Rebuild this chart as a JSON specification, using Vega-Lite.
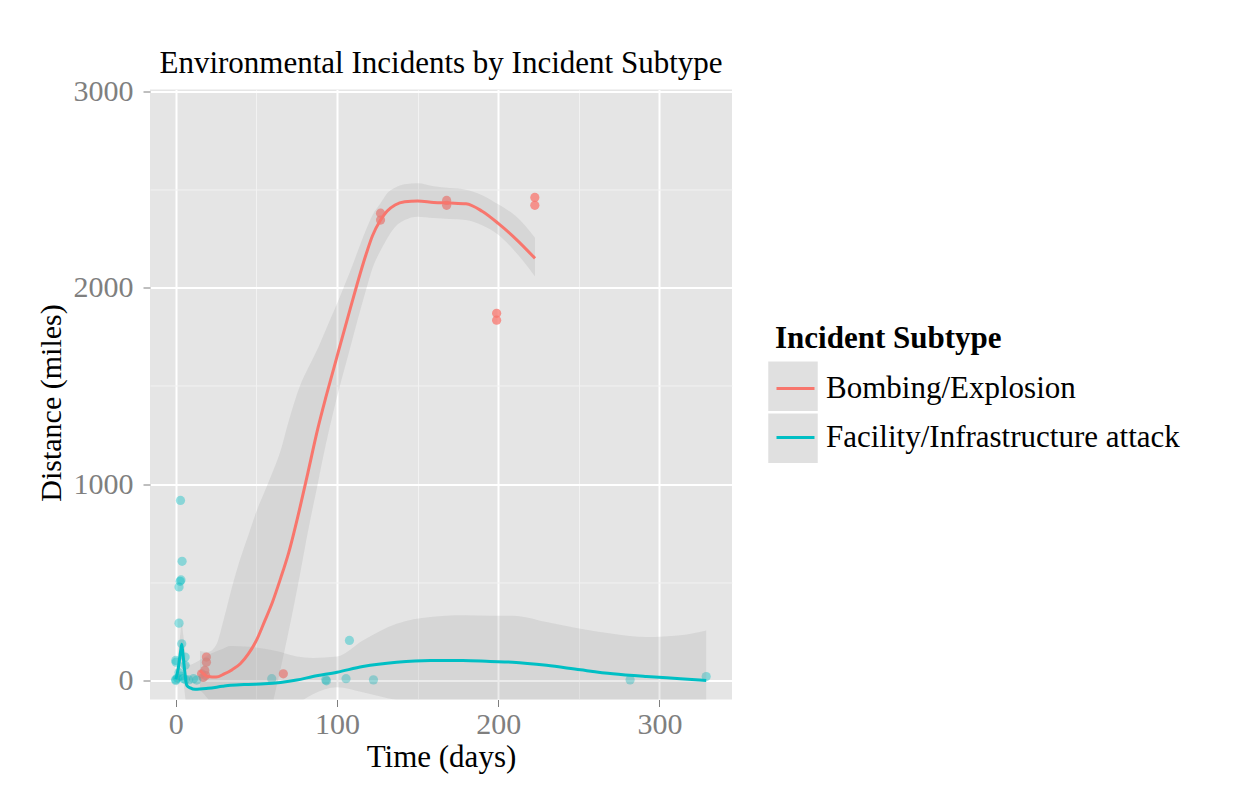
{
  "$schema": "https://vega.github.io/schema/vega-lite/v6.json",
  "width": 582,
  "height": 610,
  "autosize": {"type": "none"},
  "padding": {"left": 150, "top": 89.5, "right": 525, "bottom": 96.5},
  "background": "white",
  "config": {
    "font": "Liberation Serif",
    "view": {"stroke": null, "fill": "#E5E5E5"}
  },
  "title": {
    "text": "Environmental Incidents by Incident Subtype",
    "frame": "group",
    "anchor": "middle",
    "fontSize": 31,
    "font": "Liberation Serif",
    "fontWeight": "normal",
    "color": "black",
    "baseline": "alphabetic",
    "offset": -28
  },
  "datasets": {
    "points": [
      {"subtype": "Bombing/Explosion", "days": 16, "miles": 34},
      {"subtype": "Bombing/Explosion", "days": 17, "miles": 15},
      {"subtype": "Bombing/Explosion", "days": 18, "miles": 51},
      {"subtype": "Bombing/Explosion", "days": 18.5, "miles": 25},
      {"subtype": "Bombing/Explosion", "days": 19, "miles": 93},
      {"subtype": "Bombing/Explosion", "days": 19, "miles": 119},
      {"subtype": "Bombing/Explosion", "days": 66.7, "miles": 34},
      {"subtype": "Bombing/Explosion", "days": 127, "miles": 2380},
      {"subtype": "Bombing/Explosion", "days": 127, "miles": 2345},
      {"subtype": "Bombing/Explosion", "days": 168, "miles": 2445},
      {"subtype": "Bombing/Explosion", "days": 168, "miles": 2420},
      {"subtype": "Bombing/Explosion", "days": 199, "miles": 1870},
      {"subtype": "Bombing/Explosion", "days": 199, "miles": 1835},
      {"subtype": "Bombing/Explosion", "days": 222.7, "miles": 2460},
      {"subtype": "Bombing/Explosion", "days": 222.7, "miles": 2420},
      {"subtype": "Facility/Infrastructure attack", "days": 2.9, "miles": 917},
      {"subtype": "Facility/Infrastructure attack", "days": 3.9, "miles": 607},
      {"subtype": "Facility/Infrastructure attack", "days": 2.7, "miles": 505},
      {"subtype": "Facility/Infrastructure attack", "days": 3.2, "miles": 512},
      {"subtype": "Facility/Infrastructure attack", "days": 2, "miles": 476},
      {"subtype": "Facility/Infrastructure attack", "days": 2, "miles": 292},
      {"subtype": "Facility/Infrastructure attack", "days": 3.7, "miles": 187},
      {"subtype": "Facility/Infrastructure attack", "days": 0, "miles": 102},
      {"subtype": "Facility/Infrastructure attack", "days": 0.2, "miles": 93},
      {"subtype": "Facility/Infrastructure attack", "days": 5.8, "miles": 119},
      {"subtype": "Facility/Infrastructure attack", "days": 5.8, "miles": 77},
      {"subtype": "Facility/Infrastructure attack", "days": 0, "miles": 0},
      {"subtype": "Facility/Infrastructure attack", "days": 0, "miles": 5},
      {"subtype": "Facility/Infrastructure attack", "days": 1, "miles": 12},
      {"subtype": "Facility/Infrastructure attack", "days": 2, "miles": 40},
      {"subtype": "Facility/Infrastructure attack", "days": 3, "miles": 22},
      {"subtype": "Facility/Infrastructure attack", "days": 4.5, "miles": 10},
      {"subtype": "Facility/Infrastructure attack", "days": 6, "miles": 4},
      {"subtype": "Facility/Infrastructure attack", "days": 8, "miles": 3},
      {"subtype": "Facility/Infrastructure attack", "days": 11, "miles": 9},
      {"subtype": "Facility/Infrastructure attack", "days": 13, "miles": 2},
      {"subtype": "Facility/Infrastructure attack", "days": 59.5, "miles": 9},
      {"subtype": "Facility/Infrastructure attack", "days": 93, "miles": 3},
      {"subtype": "Facility/Infrastructure attack", "days": 93.5, "miles": -2},
      {"subtype": "Facility/Infrastructure attack", "days": 105.6, "miles": 9},
      {"subtype": "Facility/Infrastructure attack", "days": 107.7, "miles": 204},
      {"subtype": "Facility/Infrastructure attack", "days": 122.6, "miles": 3},
      {"subtype": "Facility/Infrastructure attack", "days": 281.8, "miles": 3},
      {"subtype": "Facility/Infrastructure attack", "days": 329, "miles": 20}
    ],
    "fit": [
      {"subtype": "Bombing/Explosion", "days": 15, "fit": 51},
      {"subtype": "Bombing/Explosion", "days": 20, "fit": 20},
      {"subtype": "Bombing/Explosion", "days": 25, "fit": 17},
      {"subtype": "Bombing/Explosion", "days": 30, "fit": 33},
      {"subtype": "Bombing/Explosion", "days": 35, "fit": 55},
      {"subtype": "Bombing/Explosion", "days": 40, "fit": 85},
      {"subtype": "Bombing/Explosion", "days": 45, "fit": 135},
      {"subtype": "Bombing/Explosion", "days": 50, "fit": 204},
      {"subtype": "Bombing/Explosion", "days": 55, "fit": 300},
      {"subtype": "Bombing/Explosion", "days": 60, "fit": 400},
      {"subtype": "Bombing/Explosion", "days": 65, "fit": 520},
      {"subtype": "Bombing/Explosion", "days": 70, "fit": 650},
      {"subtype": "Bombing/Explosion", "days": 77, "fit": 880},
      {"subtype": "Bombing/Explosion", "days": 82, "fit": 1060},
      {"subtype": "Bombing/Explosion", "days": 88, "fit": 1280},
      {"subtype": "Bombing/Explosion", "days": 93, "fit": 1440},
      {"subtype": "Bombing/Explosion", "days": 98, "fit": 1590},
      {"subtype": "Bombing/Explosion", "days": 108, "fit": 1888},
      {"subtype": "Bombing/Explosion", "days": 118, "fit": 2170},
      {"subtype": "Bombing/Explosion", "days": 122, "fit": 2265},
      {"subtype": "Bombing/Explosion", "days": 127, "fit": 2345},
      {"subtype": "Bombing/Explosion", "days": 131, "fit": 2390},
      {"subtype": "Bombing/Explosion", "days": 136, "fit": 2422},
      {"subtype": "Bombing/Explosion", "days": 142, "fit": 2438},
      {"subtype": "Bombing/Explosion", "days": 150, "fit": 2442},
      {"subtype": "Bombing/Explosion", "days": 160, "fit": 2435},
      {"subtype": "Bombing/Explosion", "days": 170, "fit": 2432},
      {"subtype": "Bombing/Explosion", "days": 180, "fit": 2428},
      {"subtype": "Bombing/Explosion", "days": 190, "fit": 2390},
      {"subtype": "Bombing/Explosion", "days": 200, "fit": 2328},
      {"subtype": "Bombing/Explosion", "days": 211, "fit": 2248},
      {"subtype": "Bombing/Explosion", "days": 222.8, "fit": 2150},
      {"subtype": "Facility/Infrastructure attack", "days": 0, "fit": 5},
      {"subtype": "Facility/Infrastructure attack", "days": 1.5, "fit": 60},
      {"subtype": "Facility/Infrastructure attack", "days": 3, "fit": 150},
      {"subtype": "Facility/Infrastructure attack", "days": 3.7, "fit": 185},
      {"subtype": "Facility/Infrastructure attack", "days": 4.5, "fit": 130},
      {"subtype": "Facility/Infrastructure attack", "days": 5.5, "fit": 50},
      {"subtype": "Facility/Infrastructure attack", "days": 6.8, "fit": -25},
      {"subtype": "Facility/Infrastructure attack", "days": 9, "fit": -38},
      {"subtype": "Facility/Infrastructure attack", "days": 12, "fit": -45},
      {"subtype": "Facility/Infrastructure attack", "days": 20, "fit": -40},
      {"subtype": "Facility/Infrastructure attack", "days": 29, "fit": -30},
      {"subtype": "Facility/Infrastructure attack", "days": 34, "fit": -25},
      {"subtype": "Facility/Infrastructure attack", "days": 45, "fit": -20},
      {"subtype": "Facility/Infrastructure attack", "days": 55, "fit": -17},
      {"subtype": "Facility/Infrastructure attack", "days": 65, "fit": -10},
      {"subtype": "Facility/Infrastructure attack", "days": 75, "fit": 2},
      {"subtype": "Facility/Infrastructure attack", "days": 85, "fit": 20},
      {"subtype": "Facility/Infrastructure attack", "days": 100, "fit": 42},
      {"subtype": "Facility/Infrastructure attack", "days": 116, "fit": 71},
      {"subtype": "Facility/Infrastructure attack", "days": 137, "fit": 93},
      {"subtype": "Facility/Infrastructure attack", "days": 158, "fit": 102},
      {"subtype": "Facility/Infrastructure attack", "days": 178, "fit": 102},
      {"subtype": "Facility/Infrastructure attack", "days": 195, "fit": 97},
      {"subtype": "Facility/Infrastructure attack", "days": 209, "fit": 93},
      {"subtype": "Facility/Infrastructure attack", "days": 230, "fit": 77},
      {"subtype": "Facility/Infrastructure attack", "days": 251, "fit": 54},
      {"subtype": "Facility/Infrastructure attack", "days": 271, "fit": 34},
      {"subtype": "Facility/Infrastructure attack", "days": 292, "fit": 20},
      {"subtype": "Facility/Infrastructure attack", "days": 313, "fit": 9},
      {"subtype": "Facility/Infrastructure attack", "days": 329, "fit": 0}
    ],
    "band": [
      {"series": "Bombing/Explosion", "days": 15, "lower": -50, "upper": 150},
      {"series": "Bombing/Explosion", "days": 20, "lower": -95, "upper": 145},
      {"series": "Bombing/Explosion", "days": 25, "lower": -170, "upper": 180},
      {"series": "Bombing/Explosion", "days": 30, "lower": -270, "upper": 320},
      {"series": "Bombing/Explosion", "days": 35, "lower": -380, "upper": 480},
      {"series": "Bombing/Explosion", "days": 40, "lower": -450, "upper": 620},
      {"series": "Bombing/Explosion", "days": 45, "lower": -480, "upper": 740},
      {"series": "Bombing/Explosion", "days": 50, "lower": -450, "upper": 860},
      {"series": "Bombing/Explosion", "days": 55, "lower": -320, "upper": 960},
      {"series": "Bombing/Explosion", "days": 60, "lower": -120, "upper": 1060},
      {"series": "Bombing/Explosion", "days": 65, "lower": 60, "upper": 1170},
      {"series": "Bombing/Explosion", "days": 70, "lower": 250, "upper": 1320},
      {"series": "Bombing/Explosion", "days": 77, "lower": 540, "upper": 1500},
      {"series": "Bombing/Explosion", "days": 82, "lower": 760, "upper": 1590},
      {"series": "Bombing/Explosion", "days": 88, "lower": 1000, "upper": 1690},
      {"series": "Bombing/Explosion", "days": 93, "lower": 1200, "upper": 1785},
      {"series": "Bombing/Explosion", "days": 98, "lower": 1378, "upper": 1880},
      {"series": "Bombing/Explosion", "days": 108, "lower": 1690, "upper": 2080},
      {"series": "Bombing/Explosion", "days": 118, "lower": 1990, "upper": 2296},
      {"series": "Bombing/Explosion", "days": 122, "lower": 2100, "upper": 2370},
      {"series": "Bombing/Explosion", "days": 127, "lower": 2190, "upper": 2430},
      {"series": "Bombing/Explosion", "days": 131, "lower": 2250, "upper": 2480},
      {"series": "Bombing/Explosion", "days": 136, "lower": 2310, "upper": 2510},
      {"series": "Bombing/Explosion", "days": 142, "lower": 2345, "upper": 2528},
      {"series": "Bombing/Explosion", "days": 150, "lower": 2362, "upper": 2532},
      {"series": "Bombing/Explosion", "days": 160, "lower": 2355, "upper": 2517},
      {"series": "Bombing/Explosion", "days": 170, "lower": 2350, "upper": 2508},
      {"series": "Bombing/Explosion", "days": 180, "lower": 2345, "upper": 2500},
      {"series": "Bombing/Explosion", "days": 190, "lower": 2318, "upper": 2472},
      {"series": "Bombing/Explosion", "days": 200, "lower": 2270, "upper": 2425},
      {"series": "Bombing/Explosion", "days": 211, "lower": 2180, "upper": 2364},
      {"series": "Bombing/Explosion", "days": 222.8, "lower": 2058, "upper": 2255},
      {"series": "Facility/Infrastructure attack", "days": 0, "lower": -40, "upper": 60},
      {"series": "Facility/Infrastructure attack", "days": 1.5, "lower": 0, "upper": 130},
      {"series": "Facility/Infrastructure attack", "days": 3, "lower": 60, "upper": 250},
      {"series": "Facility/Infrastructure attack", "days": 3.7, "lower": 90, "upper": 290},
      {"series": "Facility/Infrastructure attack", "days": 4.5, "lower": 30, "upper": 240},
      {"series": "Facility/Infrastructure attack", "days": 5.5, "lower": -60, "upper": 170},
      {"series": "Facility/Infrastructure attack", "days": 6.8, "lower": -130, "upper": 90},
      {"series": "Facility/Infrastructure attack", "days": 9, "lower": -150, "upper": 80},
      {"series": "Facility/Infrastructure attack", "days": 12, "lower": -150, "upper": 90},
      {"series": "Facility/Infrastructure attack", "days": 20, "lower": -150, "upper": 130},
      {"series": "Facility/Infrastructure attack", "days": 29, "lower": -170, "upper": 160},
      {"series": "Facility/Infrastructure attack", "days": 34, "lower": -180, "upper": 175},
      {"series": "Facility/Infrastructure attack", "days": 45, "lower": -190, "upper": 172},
      {"series": "Facility/Infrastructure attack", "days": 55, "lower": -190, "upper": 162},
      {"series": "Facility/Infrastructure attack", "days": 65, "lower": -170, "upper": 145},
      {"series": "Facility/Infrastructure attack", "days": 75, "lower": -120, "upper": 122},
      {"series": "Facility/Infrastructure attack", "days": 85, "lower": -70, "upper": 115},
      {"series": "Facility/Infrastructure attack", "days": 100, "lower": -35, "upper": 122},
      {"series": "Facility/Infrastructure attack", "days": 116, "lower": -60, "upper": 204},
      {"series": "Facility/Infrastructure attack", "days": 137, "lower": -100, "upper": 289},
      {"series": "Facility/Infrastructure attack", "days": 158, "lower": -120, "upper": 323},
      {"series": "Facility/Infrastructure attack", "days": 178, "lower": -128, "upper": 332},
      {"series": "Facility/Infrastructure attack", "days": 195, "lower": -135, "upper": 330},
      {"series": "Facility/Infrastructure attack", "days": 209, "lower": -145, "upper": 330},
      {"series": "Facility/Infrastructure attack", "days": 230, "lower": -145, "upper": 298},
      {"series": "Facility/Infrastructure attack", "days": 251, "lower": -155, "upper": 264},
      {"series": "Facility/Infrastructure attack", "days": 271, "lower": -170, "upper": 238},
      {"series": "Facility/Infrastructure attack", "days": 292, "lower": -180, "upper": 221},
      {"series": "Facility/Infrastructure attack", "days": 313, "lower": -210, "upper": 230},
      {"series": "Facility/Infrastructure attack", "days": 329, "lower": -255, "upper": 255}
    ]
  },
  "resolve": {"axis": {"x": "independent", "y": "independent"}},
  "layer": [
    {
      "data": {"name": "points"},
      "mark": {"type": "circle", "size": 85, "clip": true},
      "encoding": {
        "x": {
          "field": "days", "type": "quantitative",
          "scale": {"domain": [-16, 345], "nice": false, "zero": false},
          "axis": {"orient": "bottom", "values": [50, 150, 250], "grid": true, "gridColor": "#F2F2F2", "gridWidth": 1, "labels": false, "ticks": false, "domain": false, "title": null}
        },
        "y": {
          "field": "miles", "type": "quantitative",
          "scale": {"domain": [-97, 3010], "nice": false, "zero": false},
          "axis": {"orient": "left", "values": [500, 1500, 2500], "grid": true, "gridColor": "#F2F2F2", "gridWidth": 1, "labels": false, "ticks": false, "domain": false, "title": null}
        },
        "color": {
          "field": "subtype", "type": "nominal",
          "scale": {"domain": ["Bombing/Explosion", "Facility/Infrastructure attack"], "range": ["#F8766D", "#00BFC4"]},
          "legend": null
        },
        "opacity": {
          "field": "subtype", "type": "nominal",
          "scale": {"range": [0.75, 0.4]},
          "legend": null
        }
      }
    },
    {
      "data": {"name": "band"},
      "mark": {"type": "area", "interpolate": "monotone", "clip": true, "opacity": 0.2},
      "encoding": {
        "x": {"field": "days", "type": "quantitative", "axis": null},
        "y": {"field": "lower", "type": "quantitative", "axis": null},
        "y2": {"field": "upper"},
        "fill": {
          "field": "series", "type": "nominal",
          "scale": {"range": ["#999999", "#999999"]},
          "legend": {
            "orient": "none", "legendX": 618, "legendY": 271.75,
            "title": null, "symbolType": "square", "symbolSize": 2450,
            "symbolOpacity": 0.3, "symbolStrokeWidth": 0,
            "labelExpr": "''", "labelFontSize": 1, "rowPadding": 2, "zindex": 0
          }
        }
      }
    },
    {
      "data": {"name": "fit"},
      "mark": {"type": "line", "interpolate": "monotone", "strokeWidth": 3, "clip": true},
      "encoding": {
        "x": {
          "field": "days", "type": "quantitative",
          "axis": {"orient": "bottom", "values": [0, 100, 200, 300], "format": "d", "grid": true, "gridColor": "white", "gridWidth": 2, "domain": false, "ticks": true, "tickColor": "#7F7F7F", "tickSize": 7, "tickWidth": 1, "labelFont": "Liberation Serif", "labelFontSize": 30, "labelColor": "#7F7F7F", "labelPadding": 3, "title": "Time (days)", "titleFont": "Liberation Serif", "titleFontSize": 31, "titleFontWeight": "normal", "titleColor": "black", "titlePadding": 3}
        },
        "y": {
          "field": "fit", "type": "quantitative",
          "axis": {"orient": "left", "values": [0, 1000, 2000, 3000], "format": "d", "grid": true, "gridColor": "white", "gridWidth": 2, "domain": false, "ticks": true, "tickColor": "#7F7F7F", "tickSize": 7, "tickWidth": 1, "labelFont": "Liberation Serif", "labelFontSize": 30, "labelColor": "#7F7F7F", "labelPadding": 10, "title": "Distance (miles)", "titleFont": "Liberation Serif", "titleFontSize": 30, "titleFontWeight": "normal", "titleColor": "black", "titlePadding": 7, "titleY": 313}
        },
        "stroke": {
          "field": "subtype", "type": "nominal",
          "scale": {"range": ["#F8766D", "#00BFC4"]},
          "legend": {
            "orient": "none", "legendX": 625, "legendY": 234.5,
            "title": "Incident Subtype", "titleFont": "Liberation Serif", "titleFontSize": 31, "titleFontWeight": "bold", "titleColor": "black", "titlePadding": 13, "titleLimit": 600,
            "symbolType": "stroke", "symbolSize": 1444, "symbolStrokeWidth": 3,
            "labelFont": "Liberation Serif", "labelFontSize": 31, "labelColor": "black", "labelOffset": 10, "labelLimit": 600,
            "rowPadding": 13, "zindex": 1
          }
        }
      }
    }
  ]
}
